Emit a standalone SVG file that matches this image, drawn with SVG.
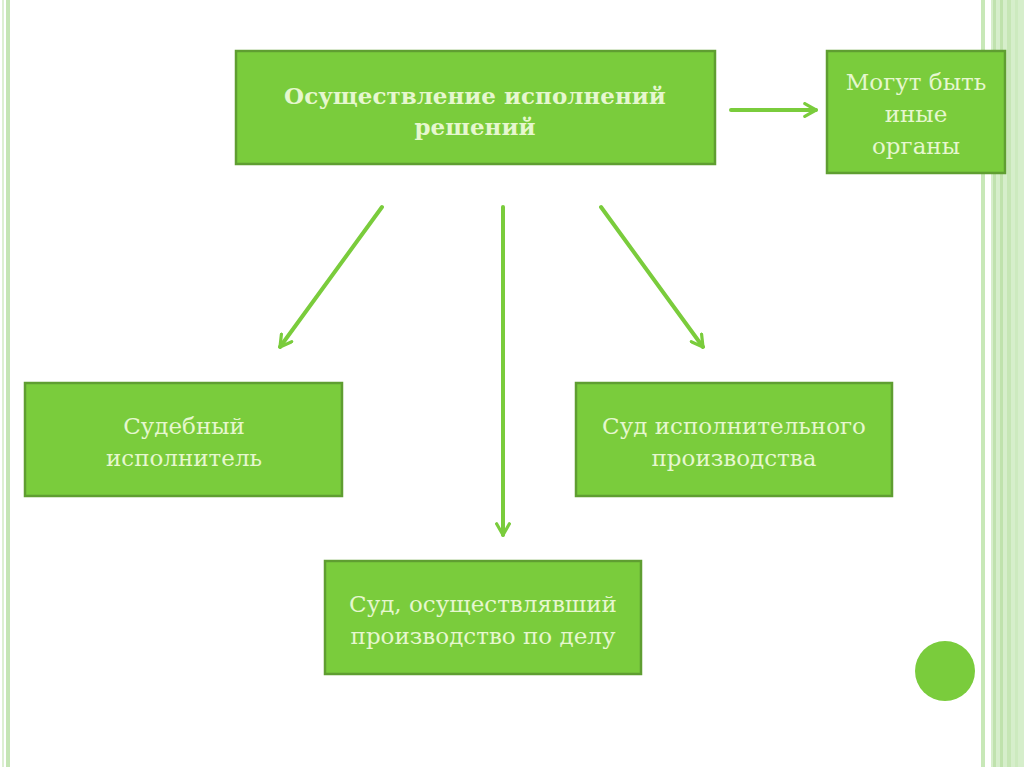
<svg xmlns="http://www.w3.org/2000/svg" width="1024" height="767" viewBox="0 0 1024 767">
<defs>
<style>
.box{fill:#7acc3c;stroke:#5f9e31;stroke-width:2.5}
.t{font-family:"DejaVu Serif","Liberation Serif",serif;font-size:23px;fill:#e6f7cf;text-anchor:middle}
.b{font-weight:bold;font-size:23px}
.c{stroke:#7acc3c;stroke-width:4;fill:none;stroke-linecap:round}
</style>
<marker id="ah" viewBox="0 0 10 10" refX="8" refY="5" markerWidth="4" markerHeight="4" orient="auto" markerUnits="strokeWidth">
<path d="M1,1 L8,5 L1,9" fill="none" stroke="#7acc3c" stroke-width="2" stroke-linecap="round" stroke-linejoin="round"/>
</marker>
</defs>
<rect width="1024" height="767" fill="#ffffff"/>
<g id="frame">
<rect x="2" y="0" width="2" height="767" fill="#dcefd2"/>
<rect x="6" y="0" width="4" height="767" fill="#c5e5b5"/>
<rect x="981" y="0" width="4" height="767" fill="#c8e8b8"/>
<rect x="991" y="0" width="33" height="767" fill="#d6eecb"/>
<rect x="993" y="0" width="3" height="767" fill="#c0e2ae"/>
<rect x="1000" y="0" width="3" height="767" fill="#bfe2ac"/>
<rect x="1007" y="0" width="4" height="767" fill="#c6e6b5"/>
<rect x="1015" y="0" width="3" height="767" fill="#cdeabf"/>
</g>
<g id="connectors">
<line class="c" x1="731" y1="110" x2="816" y2="110" marker-end="url(#ah)"/>
<line class="c" x1="382" y1="207" x2="280" y2="347" marker-end="url(#ah)"/>
<line class="c" x1="503" y1="207" x2="503" y2="535" marker-end="url(#ah)"/>
<line class="c" x1="601" y1="207" x2="703" y2="347" marker-end="url(#ah)"/>
</g>
<g id="main">
<rect class="box" x="236" y="51" width="479" height="113"/>
<text class="t b" x="475" y="104">Осуществление исполнений</text>
<text class="t b" x="475" y="135">решений</text>
</g>
<g id="other">
<rect class="box" x="827" y="51" width="178" height="122"/>
<text class="t" x="916" y="90">Могут быть</text>
<text class="t" x="916" y="122">иные</text>
<text class="t" x="916" y="154">органы</text>
</g>
<g id="bailiff">
<rect class="box" x="25" y="383" width="317" height="113"/>
<text class="t" x="184" y="434">Судебный</text>
<text class="t" x="184" y="466">исполнитель</text>
</g>
<g id="enforcement-court">
<rect class="box" x="576" y="383" width="316" height="113"/>
<text class="t" x="734" y="434">Суд исполнительного</text>
<text class="t" x="734" y="466">производства</text>
</g>
<g id="trial-court">
<rect class="box" x="325" y="561" width="316" height="113"/>
<text class="t" x="483" y="612">Суд, осуществлявший</text>
<text class="t" x="483" y="644">производство по делу</text>
</g>
<g id="dot">
<circle cx="945" cy="671" r="30" fill="#7acc3c"/>
</g>
</svg>
